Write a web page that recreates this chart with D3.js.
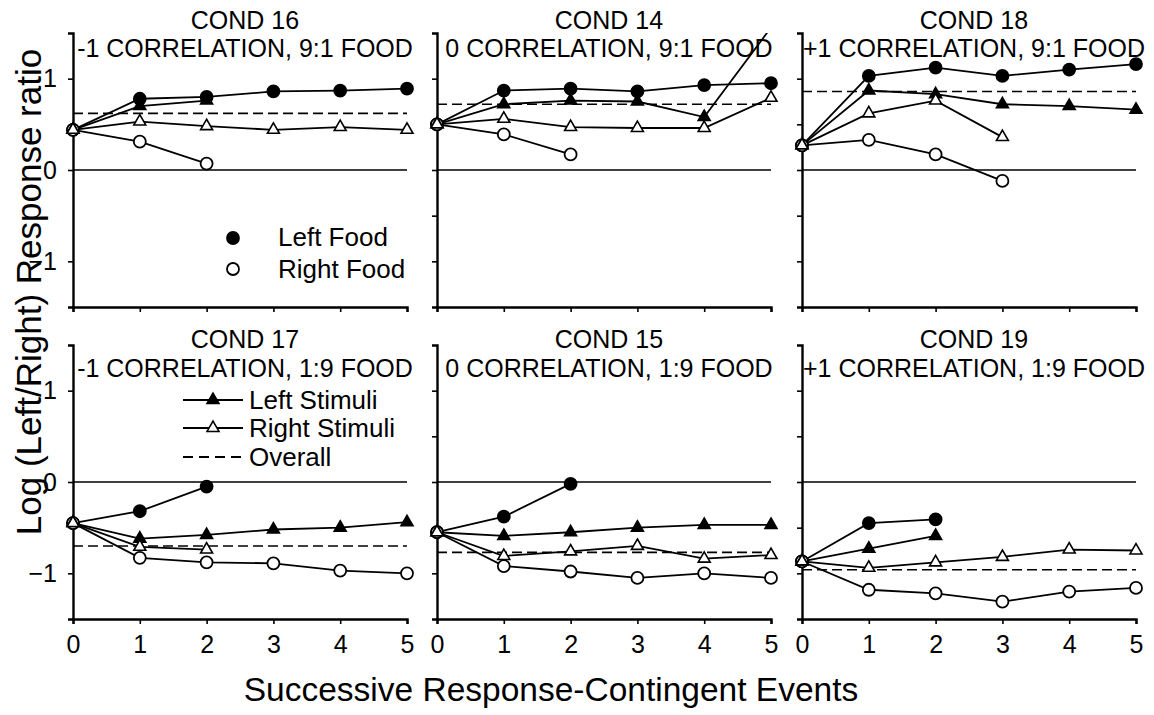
<!DOCTYPE html>
<html><head><meta charset="utf-8">
<script src="https://cdn.jsdelivr.net/npm/d3@7"></script>
<style>
body{margin:0;background:#fff}
text{font-family:"Liberation Sans",Arial,Helvetica,sans-serif;fill:#000}
</style>
</head><body>
<svg id="chart" width="1154" height="715"></svg>
<script>
// ---- data ----
const xTicks = [0, 1, 2, 3, 4, 5];
const yTicksLabeled = [-1, 0, 1];
const yTicksPlain = [-1, -0.5, 0, 0.5, 1];
const condNames = ["COND 16", "COND 14", "COND 18", "COND 17", "COND 15", "COND 19"];
const condSubtitles = [
  "-1 CORRELATION, 9:1 FOOD", "0 CORRELATION, 9:1 FOOD", "+1 CORRELATION, 9:1 FOOD",
  "-1 CORRELATION, 1:9 FOOD", "0 CORRELATION, 1:9 FOOD", "+1 CORRELATION, 1:9 FOOD"
];
const leftFood = [
  [0.44, 0.78, 0.80, 0.86, 0.87, 0.89],
  [0.50, 0.87, 0.89, 0.86, 0.93, 0.95],
  [0.27, 1.03, 1.12, 1.03, 1.10, 1.16],
  [-0.45, -0.32, -0.05],
  [-0.55, -0.38, -0.02],
  [-0.87, -0.45, -0.41]
];
const rightFood = [
  [0.44, 0.31, 0.07],
  [0.50, 0.39, 0.17],
  [0.27, 0.33, 0.17, -0.12],
  [-0.45, -0.83, -0.88, -0.89, -0.97, -1.00],
  [-0.55, -0.92, -0.98, -1.05, -1.00, -1.05],
  [-0.87, -1.18, -1.22, -1.31, -1.20, -1.16]
];
const leftStimuli = [
  [0.44, 0.70, 0.76],
  [0.50, 0.72, 0.76, 0.75, 0.58, 1.56],
  [0.27, 0.87, 0.83, 0.72, 0.70, 0.66],
  [-0.45, -0.62, -0.58, -0.52, -0.50, -0.44],
  [-0.55, -0.59, -0.55, -0.50, -0.47, -0.47],
  [-0.87, -0.73, -0.59]
];
const rightStimuli = [
  [0.44, 0.53, 0.48, 0.44, 0.47, 0.44],
  [0.50, 0.56, 0.47, 0.46, 0.46, 0.79],
  [0.27, 0.62, 0.76, 0.36],
  [-0.45, -0.71, -0.74],
  [-0.55, -0.81, -0.76, -0.70, -0.84, -0.80],
  [-0.87, -0.94, -0.88, -0.82, -0.74, -0.75]
];
const overall = [0.62, 0.72, 0.86, -0.70, -0.77, -0.96];

// ---- layout ----
const FONT = 25;
const LEGFONT = 26;
const colX = [73, 437, 802];
const rowY = [33, 345];
const W = 334, H = 274;
const svg = d3.select("#chart");
const x = d3.scaleLinear().domain([0, 5]).range([0, W]);
const y = d3.scaleLinear().domain([-1.5, 1.5]).range([H, 0]);
const line = d3.line().x(d => x(d[0])).y(d => y(d[1]));
const tri = d3.symbol().type(d3.symbolTriangle).size(62);
const R = 6;

svg.append("defs").append("clipPath").attr("id", "clip")
  .append("rect").attr("x", -20).attr("y", 0).attr("width", W + 40).attr("height", H + 40);

const seriesDefs = [
  { arr: leftFood, shape: "circle", fill: "#000" },
  { arr: rightFood, shape: "circle", fill: "#fff" },
  { arr: leftStimuli, shape: "tri", fill: "#000" },
  { arr: rightStimuli, shape: "tri", fill: "#fff" }
];

condNames.forEach((name, i) => {
  const col = i % 3, row = Math.floor(i / 3);
  const g = svg.append("g").attr("transform", `translate(${colX[col]},${rowY[row]})`);

  // y axis
  const ya = d3.axisLeft(y).tickSizeOuter(0).tickSize(5).tickPadding(11)
    .tickValues(col === 0 ? yTicksLabeled : yTicksPlain)
    .tickFormat(col === 0 ? d3.format("d") : () => "");
  const yg = g.append("g").call(ya);
  // x axis
  const xa = d3.axisBottom(x).tickSizeOuter(0).tickSize(5).tickPadding(11)
    .tickValues(xTicks).tickFormat(row === 1 ? d3.format("d") : () => "");
  const xg = g.append("g").attr("transform", `translate(0,${H})`).call(xa);
  [yg, xg].forEach(a => {
    a.select(".domain").attr("stroke", "#000").attr("stroke-width", 2.4);
    a.selectAll(".tick line").attr("stroke", "#000").attr("stroke-width", 1.6);
    a.selectAll(".tick text").style("font-size", FONT + "px")
      .style("font-family", '"Liberation Sans",Arial,sans-serif').attr("fill", "#000");
  });

  // zero reference line
  g.append("line").attr("x1", x(0)).attr("x2", x(5)).attr("y1", y(0)).attr("y2", y(0))
    .attr("stroke", "#000").attr("stroke-width", 1.5);
  // overall dashed line
  g.append("line").attr("x1", x(0)).attr("x2", x(5)).attr("y1", y(overall[i])).attr("y2", y(overall[i]))
    .attr("stroke", "#000").attr("stroke-width", 1.6).attr("stroke-dasharray", "10,5");

  const data = g.append("g").attr("clip-path", "url(#clip)");
  seriesDefs.forEach(s => {
    const pts = s.arr[i].map((v, k) => [k, v]);
    data.append("path").attr("d", line(pts)).attr("fill", "none")
      .attr("stroke", "#000").attr("stroke-width", 1.8);
  });
  seriesDefs.forEach(s => {
    const pts = s.arr[i].map((v, k) => [k, v]);
    if (s.shape === "circle") {
      data.selectAll(null).data(pts).enter().append("circle")
        .attr("cx", d => x(d[0])).attr("cy", d => y(d[1])).attr("r", R)
        .attr("fill", s.fill).attr("stroke", "#000").attr("stroke-width", 1.8);
    } else {
      data.selectAll(null).data(pts).enter().append("path")
        .attr("d", tri).attr("transform", d => `translate(${x(d[0])},${y(d[1])})`)
        .attr("fill", s.fill).attr("stroke", "#000").attr("stroke-width", 1.6);
    }
  });

  // titles
  const cx = W / 2 + 5;
  g.append("text").attr("x", cx).attr("y", row === 0 ? -4 : 3).attr("text-anchor", "middle")
    .style("font-size", FONT + "px").text(name);
  g.append("text").attr("x", cx).attr("y", row === 0 ? 24 : 32).attr("text-anchor", "middle")
    .style("font-size", FONT + "px").text(condSubtitles[i]);

  // legends
  if (i === 0) {
    const lg = g.append("g");
    lg.append("circle").attr("cx", 160).attr("cy", 205).attr("r", R).attr("fill", "#000").attr("stroke", "#000").attr("stroke-width", 1.8);
    lg.append("circle").attr("cx", 160).attr("cy", 236).attr("r", R).attr("fill", "#fff").attr("stroke", "#000").attr("stroke-width", 1.8);
    lg.append("text").attr("x", 205).attr("y", 213).style("font-size", LEGFONT + "px").text("Left Food");
    lg.append("text").attr("x", 205).attr("y", 245).style("font-size", LEGFONT + "px").text("Right Food");
  }
  if (i === 3) {
    const lg = g.append("g");
    [[55, "#000", "Left Stimuli", false], [83, "#fff", "Right Stimuli", false], [112, null, "Overall", true]]
      .forEach(([yy, fill, label, dashed]) => {
        lg.append("line").attr("x1", 110).attr("x2", 170).attr("y1", yy).attr("y2", yy)
          .attr("stroke", "#000").attr("stroke-width", 1.8)
          .attr("stroke-dasharray", dashed ? "10,6" : null);
        if (fill) lg.append("path").attr("d", tri).attr("transform", `translate(140,${yy})`)
          .attr("fill", fill).attr("stroke", "#000").attr("stroke-width", 1.6);
        lg.append("text").attr("x", 176).attr("y", yy + 9).style("font-size", LEGFONT + "px").text(label);
      });
  }
});

// axis titles
svg.append("text").attr("x", 551).attr("y", 701).attr("text-anchor", "middle")
  .style("font-size", "33.5px").text("Successive Response-Contingent Events");
svg.append("text").attr("transform", "translate(41,292) rotate(-90)").attr("text-anchor", "middle")
  .style("font-size", "35px").text("Log (Left/Right) Response ratio");
</script>
</body></html>
